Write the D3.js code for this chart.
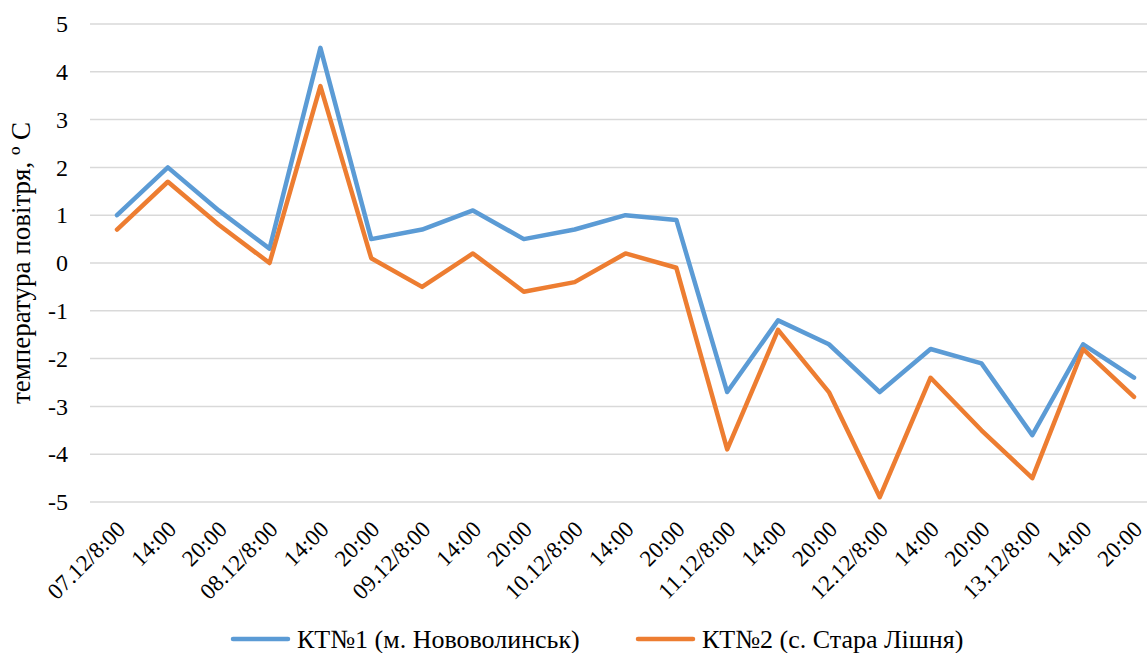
<!DOCTYPE html>
<html>
<head>
<meta charset="utf-8">
<script src="https://cdn.jsdelivr.net/npm/d3@7"></script>
<style>
  body { margin: 0; background: #fff; }
  svg, svg text { font-family: "Liberation Serif", "Times New Roman", Times, "DejaVu Serif", serif !important; }
</style>
</head>
<body>
<div id="chart"></div>
<script>
const categories = [
  '07.12/8:00', '14:00', '20:00', '08.12/8:00', '14:00', '20:00',
  '09.12/8:00', '14:00', '20:00', '10.12/8:00', '14:00', '20:00',
  '11.12/8:00', '14:00', '20:00', '12.12/8:00', '14:00', '20:00',
  '13.12/8:00', '14:00', '20:00'
];
const kt1 = [1.0, 2.0, 1.1, 0.3, 4.5, 0.5, 0.7, 1.1, 0.5, 0.7, 1.0, 0.9,
  -2.7, -1.2, -1.7, -2.7, -1.8, -2.1, -3.6, -1.7, -2.4];
const kt2 = [0.7, 1.7, 0.8, 0.0, 3.7, 0.1, -0.5, 0.2, -0.6, -0.4, 0.2, -0.1,
  -3.9, -1.4, -2.7, -4.9, -2.4, -3.5, -4.5, -1.8, -2.8];
const yTicks = [5, 4, 3, 2, 1, 0, -1, -2, -3, -4, -5];
const seriesNames = ['КТ№1 (м. Нововолинськ)', 'КТ№2 (с. Стара Лішня)'];
const seriesColours = ['#5B9BD5', '#ED7D31'];

// chart dimensions
const svgWidth = 1147;
const svgHeight = 653;
const plotLeft = 90;
const plotRight = 1147;
const plotTop = 24;
const plotBottom = 502;
const fontSize = 23;

const xScale = d3
  .scalePoint()
  .domain(d3.range(categories.length))
  .range([117, 1134]);

const yScale = d3
  .scaleLinear()
  .domain([-5, 5])
  .range([plotBottom, plotTop]);

const svg = d3
  .create('svg')
  .attr('width', svgWidth)
  .attr('height', svgHeight)
  .attr('viewBox', [0, 0, svgWidth, svgHeight]);

svg.append('rect').attr('width', svgWidth).attr('height', svgHeight).attr('fill', '#fff');

// gridlines
svg
  .append('g')
  .selectAll('line')
  .data(yTicks)
  .join('line')
  .attr('x1', plotLeft)
  .attr('x2', plotRight)
  .attr('y1', (d) => yScale(d))
  .attr('y2', (d) => yScale(d))
  .attr('stroke', '#d9d9d9')
  .attr('stroke-width', 1.5);

// y axis labels (plain hyphen like the original)
svg
  .append('g')
  .attr('transform', `translate(${plotLeft},0)`)
  .call(
    d3.axisLeft(yScale)
      .tickValues(yTicks)
      .tickFormat((d) => String(d))
      .tickSize(0)
      .tickPadding(22)
  )
  .call((g) => g.select('.domain').remove())
  .call((g) =>
    g.selectAll('text')
      .attr('font-size', fontSize + 1)
      .attr('fill', '#000')
  );

// y title
svg
  .append('text')
  .attr('transform', `translate(30,${(plotTop + plotBottom) / 2}) rotate(-90)`)
  .attr('text-anchor', 'middle')
  .attr('font-size', 27)
  .attr('fill', '#000')
  .text('температура повітря, º С');

// x axis labels
svg
  .append('g')
  .selectAll('text')
  .data(categories)
  .join('text')
  .attr('transform', (d, i) => `translate(${xScale(i) + 4},${plotBottom + 23}) rotate(-45)`)
  .attr('text-anchor', 'end')
  .attr('dy', '0.35em')
  .attr('font-size', fontSize)
  .attr('fill', '#000')
  .text((d) => d);

// lines
const line = d3
  .line()
  .x((d, i) => xScale(i))
  .y((d) => yScale(d));

[kt1, kt2].forEach((values, k) => {
  svg
    .append('path')
    .datum(values)
    .attr('fill', 'none')
    .attr('stroke', seriesColours[k])
    .attr('stroke-width', 4.5)
    .attr('stroke-linejoin', 'round')
    .attr('stroke-linecap', 'round')
    .attr('d', line);
});

// legend
const legendX = [233, 638];
const legend = svg
  .append('g')
  .selectAll('g')
  .data(seriesNames)
  .join('g')
  .attr('transform', (d, i) => `translate(${legendX[i]},639)`);

legend
  .append('line')
  .attr('x1', 0)
  .attr('x2', 55)
  .attr('stroke', (d, i) => seriesColours[i])
  .attr('stroke-width', 4.5)
  .attr('stroke-linecap', 'round');

legend
  .append('text')
  .attr('x', 64)
  .attr('dy', '0.35em')
  .attr('font-size', 26)
  .attr('fill', '#000')
  .text((d) => d);

document.querySelector('#chart').append(svg.node());
</script>
</body>
</html>
